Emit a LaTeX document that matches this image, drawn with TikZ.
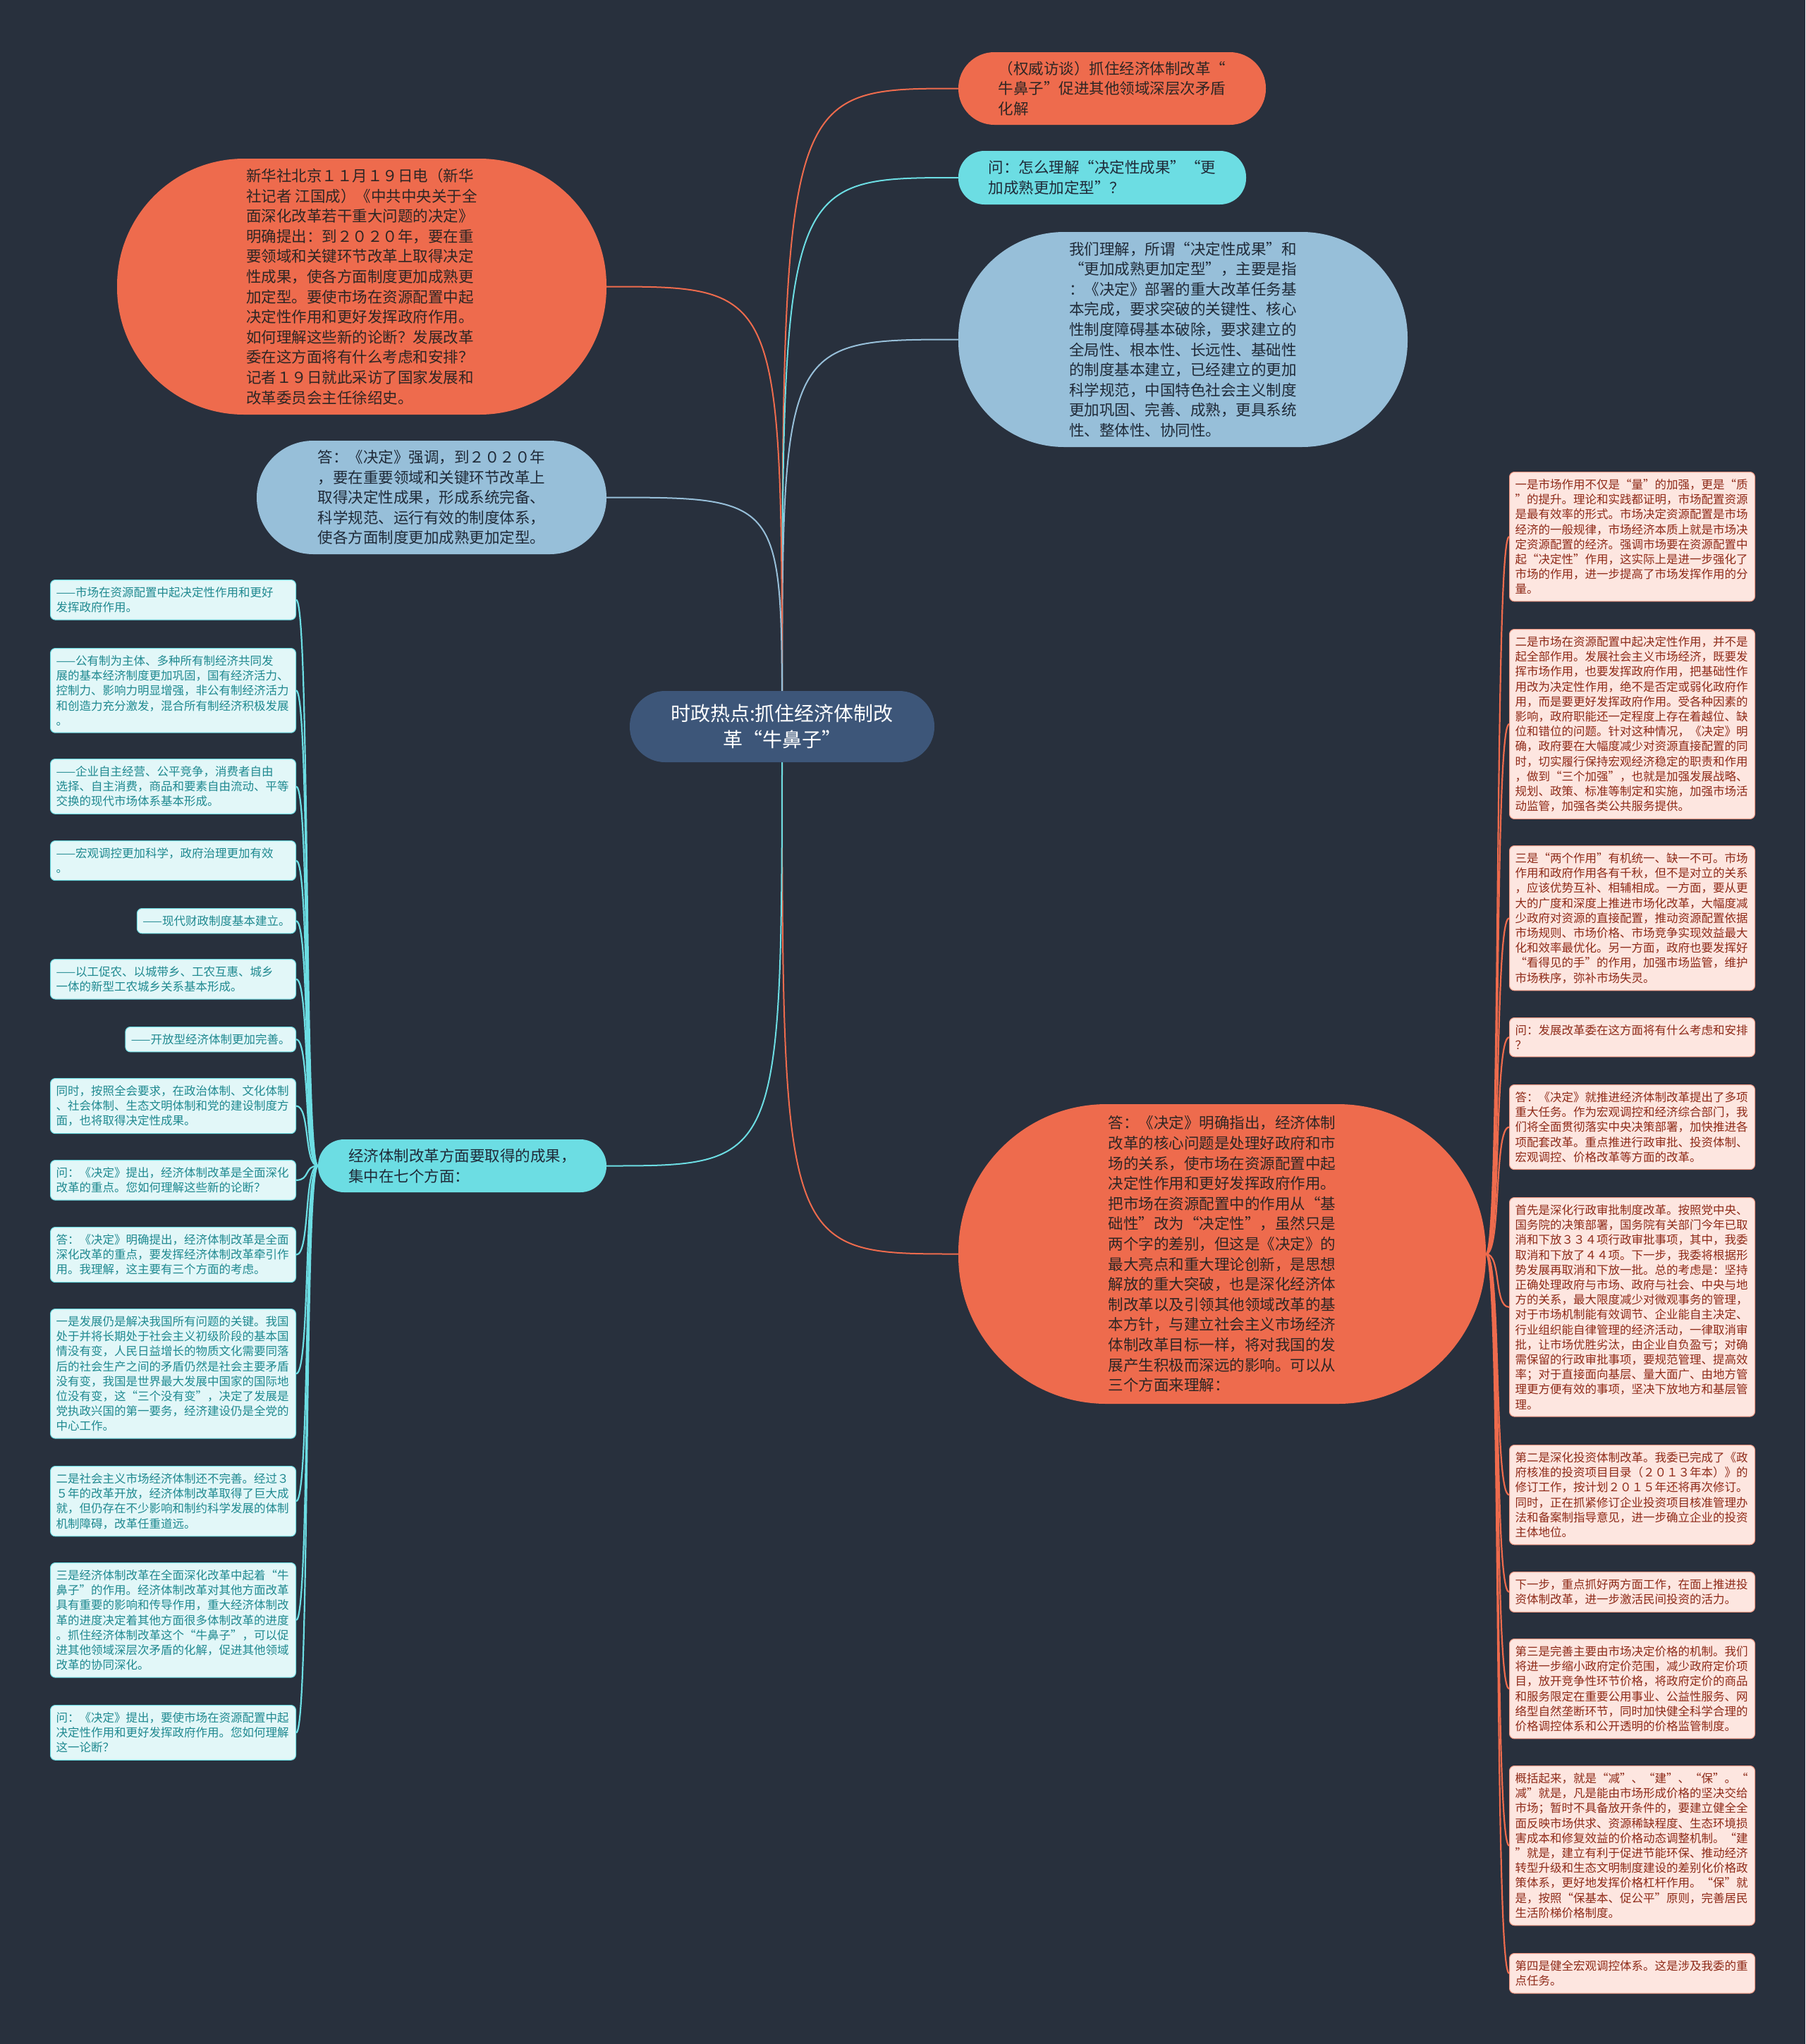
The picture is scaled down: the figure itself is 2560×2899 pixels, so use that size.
\documentclass[tikz,border=0pt]{standalone}
\usepackage{fontspec}
\setmainfont{Noto Sans CJK SC}
\usetikzlibrary{calc}
\definecolor{bgc}{HTML}{28303D}
\definecolor{orn}{HTML}{EE6B4D}
\definecolor{cyn}{HTML}{6CDDE3}
\definecolor{lbl}{HTML}{97BFD9}
\definecolor{ctr}{HTML}{3D5679}
\definecolor{rfill}{HTML}{FDE6E0}
\definecolor{rtext}{HTML}{8E2A18}
\definecolor{lfill}{HTML}{E2F7F8}
\definecolor{ltext}{HTML}{1F8990}
\definecolor{dtext}{HTML}{2E2624}
\definecolor{btext}{HTML}{1F2A38}
\pgfdeclarelayer{bgl}
\pgfdeclarelayer{edges}
\pgfsetlayers{bgl,edges,main}
\begin{document}
\begin{tikzpicture}[x=1pt,y=-1pt,
  pill/.style n args={3}{minimum width=#1pt, minimum height=#2pt, rounded corners=#3pt, inner sep=0pt, align=left, font=\fontsize{21.5}{28.6}\selectfont},
  orangepill/.style={fill=orn, text=dtext},
  bluepill/.style={fill=lbl, text=btext},
  cyanpill/.style={fill=cyn, text=btext},
  rbox/.style={fill=rfill, draw=orn!70, line width=1pt, rounded corners=7pt, text=rtext, font=\fontsize{16.5}{21.2}\selectfont, align=left, inner xsep=8pt, inner ysep=10pt, anchor=north west},
  rfull/.style={rbox, text width=332pt},
  lbox/.style={fill=lfill, draw=cyn, line width=1pt, rounded corners=7pt, text=ltext, font=\fontsize{16.5}{21.2}\selectfont, align=left, inner xsep=8pt, inner ysep=10pt, anchor=north east},
  lfull/.style={lbox, text width=332pt},
  mainln/.style={line width=2pt},
  childln/.style={line width=2.2pt}
]
\begin{pgfonlayer}{bgl}
\fill[bgc] (0,0) rectangle (2560,2899);
\end{pgfonlayer}

% center
\node[pill={432}{101}{50}, fill=ctr, text=white, align=center, font=\fontsize{28}{37}\selectfont] (C) at (1109,1030.5) {时政热点:抓住经济体制改\\革“牛鼻子”};

% right side main nodes
\node[pill={436}{103}{51}, orangepill] (T1) at (1577,125.5) {（权威访谈）抓住经济体制改革“\\牛鼻子”促进其他领域深层次矛盾\\化解};
\node[pill={408}{76}{37}, cyanpill] (T2) at (1563,252) {问：怎么理解“决定性成果”“更\\加成熟更加定型”？};
\node[pill={637}{305}{150}, bluepill] (T3) at (1677.5,481.5) {我们理解，所谓“决定性成果”和\\“更加成熟更加定型”，主要是指\\：《决定》部署的重大改革任务基\\本完成，要求突破的关键性、核心\\性制度障碍基本破除，要求建立的\\全局性、根本性、长远性、基础性\\的制度基本建立，已经建立的更加\\科学规范，中国特色社会主义制度\\更加巩固、完善、成熟，更具系统\\性、整体性、协同性。};
\node[pill={748}{425}{210}, orangepill] (RO) at (1733,1778.5) {答：《决定》明确指出，经济体制\\改革的核心问题是处理好政府和市\\场的关系，使市场在资源配置中起\\决定性作用和更好发挥政府作用。\\把市场在资源配置中的作用从“基\\础性”改为“决定性”，虽然只是\\两个字的差别，但这是《决定》的\\最大亮点和重大理论创新，是思想\\解放的重大突破，也是深化经济体\\制改革以及引领其他领域改革的基\\本方针，与建立社会主义市场经济\\体制改革目标一样，将对我国的发\\展产生积极而深远的影响。可以从\\三个方面来理解：};

% left side main nodes
\node[pill={694}{363}{180}, orangepill] (LO) at (513,406.5) {新华社北京１１月１９日电（新华\\社记者 江国成）《中共中央关于全\\面深化改革若干重大问题的决定》\\明确提出：到２０２０年，要在重\\要领域和关键环节改革上取得决定\\性成果，使各方面制度更加成熟更\\加定型。要使市场在资源配置中起\\决定性作用和更好发挥政府作用。\\如何理解这些新的论断？发展改革\\委在这方面将有什么考虑和安排？\\记者１９日就此采访了国家发展和\\改革委员会主任徐绍史。};
\node[pill={496}{161}{80}, bluepill] (LB) at (612,705.5) {答：《决定》强调，到２０２０年\\，要在重要领域和关键环节改革上\\取得决定性成果，形成系统完备、\\科学规范、运行有效的制度体系，\\使各方面制度更加成熟更加定型。};
\node[pill={409}{75}{37}, cyanpill] (LC) at (655.5,1653.5) {经济体制改革方面要取得的成果，\\集中在七个方面：};

% right column boxes
\node[rfull] (R1) at (2140,669) {一是市场作用不仅是“量”的加强，更是“质\\”的提升。理论和实践都证明，市场配置资源\\是最有效率的形式。市场决定资源配置是市场\\经济的一般规律，市场经济本质上就是市场决\\定资源配置的经济。强调市场要在资源配置中\\起“决定性”作用，这实际上是进一步强化了\\市场的作用，进一步提高了市场发挥作用的分\\量。};
\node[rfull] (R2) at (2140,892) {二是市场在资源配置中起决定性作用，并不是\\起全部作用。发展社会主义市场经济，既要发\\挥市场作用，也要发挥政府作用，把基础性作\\用改为决定性作用，绝不是否定或弱化政府作\\用，而是要更好发挥政府作用。受各种因素的\\影响，政府职能还一定程度上存在着越位、缺\\位和错位的问题。针对这种情况，《决定》明\\确，政府要在大幅度减少对资源直接配置的同\\时，切实履行保持宏观经济稳定的职责和作用\\，做到“三个加强”，也就是加强发展战略、\\规划、政策、标准等制定和实施，加强市场活\\动监管，加强各类公共服务提供。};
\node[rfull] (R3) at (2140,1199) {三是“两个作用”有机统一、缺一不可。市场\\作用和政府作用各有千秋，但不是对立的关系\\，应该优势互补、相辅相成。一方面，要从更\\大的广度和深度上推进市场化改革，大幅度减\\少政府对资源的直接配置，推动资源配置依据\\市场规则、市场价格、市场竞争实现效益最大\\化和效率最优化。另一方面，政府也要发挥好\\“看得见的手”的作用，加强市场监管，维护\\市场秩序，弥补市场失灵。};
\node[rfull] (R4) at (2140,1443) {问：发展改革委在这方面将有什么考虑和安排\\？};
\node[rfull] (R5) at (2140,1538) {答：《决定》就推进经济体制改革提出了多项\\重大任务。作为宏观调控和经济综合部门，我\\们将全面贯彻落实中央决策部署，加快推进各\\项配套改革。重点推进行政审批、投资体制、\\宏观调控、价格改革等方面的改革。};
\node[rfull] (R6) at (2140,1698) {首先是深化行政审批制度改革。按照党中央、\\国务院的决策部署，国务院有关部门今年已取\\消和下放３３４项行政审批事项，其中，我委\\取消和下放了４４项。下一步，我委将根据形\\势发展再取消和下放一批。总的考虑是：坚持\\正确处理政府与市场、政府与社会、中央与地\\方的关系，最大限度减少对微观事务的管理，\\对于市场机制能有效调节、企业能自主决定、\\行业组织能自律管理的经济活动，一律取消审\\批，让市场优胜劣汰，由企业自负盈亏；对确\\需保留的行政审批事项，要规范管理、提高效\\率；对于直接面向基层、量大面广、由地方管\\理更方便有效的事项，坚决下放地方和基层管\\理。};
\node[rfull] (R7) at (2140,2049) {第二是深化投资体制改革。我委已完成了《政\\府核准的投资项目目录（２０１３年本）》的\\修订工作，按计划２０１５年还将再次修订。\\同时，正在抓紧修订企业投资项目核准管理办\\法和备案制指导意见，进一步确立企业的投资\\主体地位。};
\node[rfull] (R8) at (2140,2229) {下一步，重点抓好两方面工作，在面上推进投\\资体制改革，进一步激活民间投资的活力。};
\node[rfull] (R9) at (2140,2324) {第三是完善主要由市场决定价格的机制。我们\\将进一步缩小政府定价范围，减少政府定价项\\目，放开竞争性环节价格，将政府定价的商品\\和服务限定在重要公用事业、公益性服务、网\\络型自然垄断环节，同时加快健全科学合理的\\价格调控体系和公开透明的价格监管制度。};
\node[rfull] (R10) at (2140,2504) {概括起来，就是“减”、“建”、“保”。“\\减”就是，凡是能由市场形成价格的坚决交给\\市场；暂时不具备放开条件的，要建立健全全\\面反映市场供求、资源稀缺程度、生态环境损\\害成本和修复效益的价格动态调整机制。“建\\”就是，建立有利于促进节能环保、推动经济\\转型升级和生态文明制度建设的差别化价格政\\策体系，更好地发挥价格杠杆作用。“保”就\\是，按照“保基本、促公平”原则，完善居民\\生活阶梯价格制度。};
\node[rfull] (R11) at (2140,2770) {第四是健全宏观调控体系。这是涉及我委的重\\点任务。};

% left column boxes
\node[lfull] (L1) at (420,822) {——市场在资源配置中起决定性作用和更好\\发挥政府作用。};
\node[lfull] (L2) at (420,919) {——公有制为主体、多种所有制经济共同发\\展的基本经济制度更加巩固，国有经济活力、\\控制力、影响力明显增强，非公有制经济活力\\和创造力充分激发，混合所有制经济积极发展\\。};
\node[lfull] (L3) at (420,1076) {——企业自主经营、公平竞争，消费者自由\\选择、自主消费，商品和要素自由流动、平等\\交换的现代市场体系基本形成。};
\node[lfull] (L4) at (420,1192) {——宏观调控更加科学，政府治理更加有效\\。};
\node[lbox] (L5) at (420,1288) {——现代财政制度基本建立。};
\node[lfull] (L6) at (420,1360) {——以工促农、以城带乡、工农互惠、城乡\\一体的新型工农城乡关系基本形成。};
\node[lbox] (L7) at (420,1456) {——开放型经济体制更加完善。};
\node[lfull] (L8) at (420,1529) {同时，按照全会要求，在政治体制、文化体制\\、社会体制、生态文明体制和党的建设制度方\\面，也将取得决定性成果。};
\node[lfull] (L9) at (420,1645) {问：《决定》提出，经济体制改革是全面深化\\改革的重点。您如何理解这些新的论断？};
\node[lfull] (L10) at (420,1740) {答：《决定》明确提出，经济体制改革是全面\\深化改革的重点，要发挥经济体制改革牵引作\\用。我理解，这主要有三个方面的考虑。};
\node[lfull] (L11) at (420,1856) {一是发展仍是解决我国所有问题的关键。我国\\处于并将长期处于社会主义初级阶段的基本国\\情没有变，人民日益增长的物质文化需要同落\\后的社会生产之间的矛盾仍然是社会主要矛盾\\没有变，我国是世界最大发展中国家的国际地\\位没有变，这“三个没有变”，决定了发展是\\党执政兴国的第一要务，经济建设仍是全党的\\中心工作。};
\node[lfull] (L12) at (420,2079) {二是社会主义市场经济体制还不完善。经过３\\５年的改革开放，经济体制改革取得了巨大成\\就，但仍存在不少影响和制约科学发展的体制\\机制障碍，改革任重道远。};
\node[lfull] (L13) at (420,2216) {三是经济体制改革在全面深化改革中起着“牛\\鼻子”的作用。经济体制改革对其他方面改革\\具有重要的影响和传导作用，重大经济体制改\\革的进度决定着其他方面很多体制改革的进度\\。抓住经济体制改革这个“牛鼻子”，可以促\\进其他领域深层次矛盾的化解，促进其他领域\\改革的协同深化。};
\node[lfull] (L14) at (420,2418) {问：《决定》提出，要使市场在资源配置中起\\决定性作用和更好发挥政府作用。您如何理解\\这一论断？};

% connectors
\begin{pgfonlayer}{edges}
\draw[mainln, orn] (C.center) .. controls (C.center |- T1.west) .. (T1.west);
\draw[mainln, cyn] (C.center) .. controls (C.center |- T2.west) .. (T2.west);
\draw[mainln, lbl] (C.center) .. controls (C.center |- T3.west) .. (T3.west);
\draw[mainln, orn] (C.center) .. controls (C.center |- RO.west) .. (RO.west);
\draw[mainln, orn] (C.center) .. controls (C.center |- LO.east) .. (LO.east);
\draw[mainln, lbl] (C.center) .. controls (C.center |- LB.east) .. (LB.east);
\draw[mainln, cyn] (C.center) .. controls (C.center |- LC.east) .. (LC.east);
\foreach \n in {R1,R2,R3,R4,R5,R6,R7,R8,R9,R10,R11}
  \draw[childln, orn] (RO.east) .. controls +(22,0) and +(-22,0) .. (\n.west);
\foreach \n in {L1,L2,L3,L4,L5,L6,L7,L8,L9,L10,L11,L12,L13,L14}
  \draw[childln, cyn] (LC.west) .. controls +(-20,0) and +(20,0) .. (\n.east);
\end{pgfonlayer}
\end{tikzpicture}
\end{document}
